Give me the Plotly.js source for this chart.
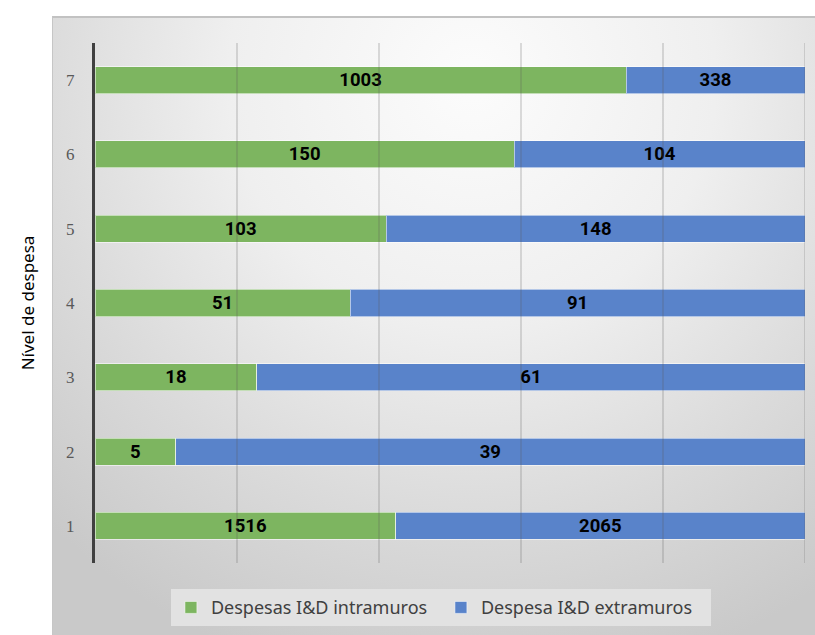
<!DOCTYPE html>
<html>
<head>
<meta charset="utf-8">
<script src="https://cdn.plot.ly/plotly-3.0.1.min.js"></script>
<style>
  html, body { margin:0; padding:0; background:#ffffff; }
  #wrap { position:relative; width:815px; height:635px; }
  #panel { position:absolute; left:52px; top:16px; width:763px; height:619px;
    background: radial-gradient(ellipse 80% 100% at 55% 10%, #fcfcfc 0%, #efefef 40%, #dadada 72%, #c9c9c9 100%);
    border-top:2px solid #c2c2c2; border-left:1px solid #c6c6c6; box-sizing:border-box; }
  #chart { position:absolute; left:0; top:0; width:815px; height:635px; }
</style>
</head>
<body>
<div id="wrap">
  <div id="panel"></div>
  <div id="chart"></div>
</div>
<script>
const categories = ['1', '2', '3', '4', '5', '6', '7'];
const intramuros = [1516, 5, 18, 51, 103, 150, 1003];
const extramuros = [2065, 39, 61, 91, 148, 104, 338];
const seriesNames = ['Despesas I&D intramuros', 'Despesa I&D extramuros'];
const gridTicks = [0, 20, 40, 60, 80, 100];

const labelFont = { family: 'Roboto, "Open Sans", sans-serif', size: 18.5, color: '#000000', weight: 700 };
const barLine = { color: 'rgba(255,255,255,0.55)', width: 1 };

const traces = [
  {
    type: 'bar', orientation: 'h', name: seriesNames[0],
    y: categories, x: intramuros, text: intramuros.map(String),
    texttemplate: '%{text}', textposition: 'inside', insidetextanchor: 'middle',
    textangle: 0, constraintext: 'none', textfont: labelFont,
    marker: { color: '#7db560', line: barLine }, hoverinfo: 'skip'
  },
  {
    type: 'bar', orientation: 'h', name: seriesNames[1],
    y: categories, x: extramuros, text: extramuros.map(String),
    texttemplate: '%{text}', textposition: 'inside', insidetextanchor: 'middle',
    textangle: 0, constraintext: 'none', textfont: labelFont,
    marker: { color: '#5983ca', line: barLine }, hoverinfo: 'skip'
  }
];

const shapes = gridTicks.slice(1).map(v => ({
  type: 'line', xref: 'x', yref: 'paper', x0: v, x1: v, y0: 0, y1: 1,
  line: { color: 'rgba(90,90,90,0.20)', width: 2 }, layer: 'above'
}));

const layout = {
  width: 815, height: 635,
  margin: { l: 95, r: 10, t: 43, b: 72 },
  paper_bgcolor: 'rgba(0,0,0,0)',
  plot_bgcolor: 'rgba(0,0,0,0)',
  barmode: 'stack', barnorm: 'percent', bargap: 0.635,
  showlegend: true,
  legend: {
    orientation: 'h', x: 0.541, xanchor: 'center', xref: 'container',
    y: 0.043, yanchor: 'middle', yref: 'container',
    bgcolor: '#e2e2e2', borderwidth: 0,
    font: { family: '"Noto Sans", "Open Sans", sans-serif', size: 18, color: '#404040' },
    itemwidth: 30, traceorder: 'normal', entrywidth: 225, entrywidthmode: 'pixels',
    tracegroupgap: 0
  },
  xaxis: {
    range: [0, 100], showgrid: false, zeroline: false, showticklabels: false,
    ticks: '', showline: false, fixedrange: true
  },
  yaxis: {
    type: 'category', range: [-0.5, 6.5], showgrid: false, zeroline: false,
    ticks: '', ticklabelstandoff: 14,
    showline: true, linecolor: '#404040', linewidth: 3, layer: 'above traces',
    tickfont: { family: '"Liberation Serif", serif', size: 17, color: '#595959' },
    title: { text: 'Nível de despesa', standoff: 28,
             font: { family: '"Noto Sans", "Open Sans", sans-serif', size: 17, color: '#000000' } },
    automargin: false, fixedrange: true
  },
  shapes: shapes
};

Plotly.newPlot('chart', traces, layout, { displayModeBar: false, staticPlot: true });
</script>
</body>
</html>
